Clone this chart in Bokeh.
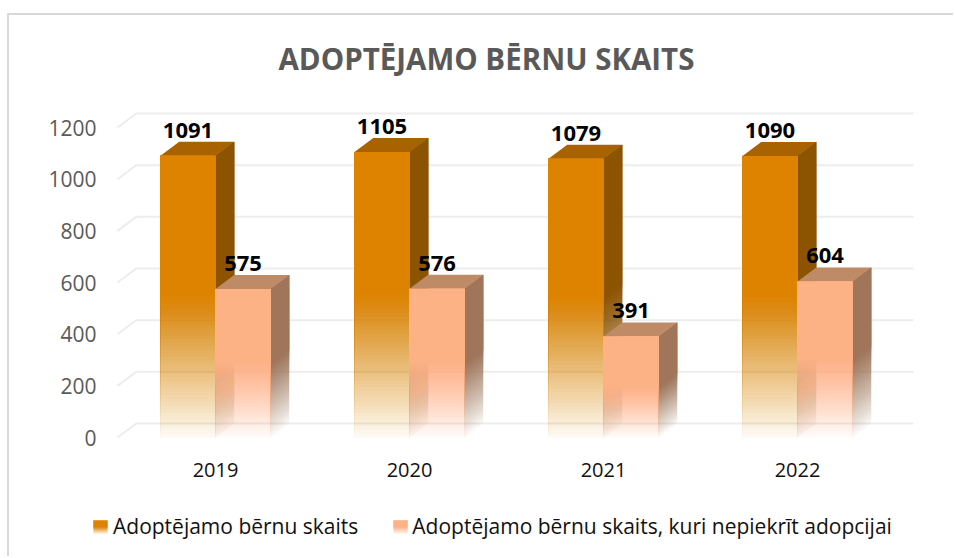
import numpy as np
from bokeh.core.properties import value
from bokeh.embed import file_html
from bokeh.models import FixedTicker, Legend, LegendItem
from bokeh.plotting import figure
from bokeh.resources import INLINE

years = ["2019", "2020", "2021", "2022"]
children = [1091, 1105, 1079, 1090]
refusing = [575, 576, 391, 604]
y_ticks = [0, 200, 400, 600, 800, 1000, 1200]
title_text = "ADOPTĒJAMO BĒRNU SKAITS"
name_a = "Adoptējamo bērnu skaits"
name_b = "Adoptējamo bērnu skaits, kuri nepiekrīt adopcijai"

BAR_W = 0.2835
DX = 0.0964
DY = 54.2
LAYERS = 40
FLOOR = 0.05
FONT = "Open Sans"
ORANGE = "#DE8300"
PEACH = "#FDB286"

# pixels of the page -> data
PX_X = 194.0
PX_Y = 0.2583
def dx_of(px):
    return (px - 215) / PX_X
def dy_of(py):
    return (437 - py) / PX_Y

GRID_X0, GRID_X1 = dx_of(117), dx_of(913)

p = figure(width=946, height=543, output_backend="svg", toolbar_location=None,
           x_range=(dx_of(9), dx_of(955)),
           y_range=(dy_of(558), dy_of(100)),
           min_border_left=0, min_border_right=0,
           min_border_top=85, min_border_bottom=0,
           background_fill_color="white", border_fill_color="white",
           outline_line_color=None, margin=(15, 0, 0, 9),
           styles={"box-shadow": "-2px -2px 0 0 #D9D9D9"})

p.title.text = title_text
p.title.text_font = FONT
p.title.text_font_size = "29.5px"
p.title.text_font_style = "bold"
p.title.text_color = "#595959"
p.title.align = "left"
p.title.offset = 269
p.title.vertical_align = "middle"
p.title.standoff = 42

p.grid.visible = False
p.yaxis.ticker = FixedTicker(ticks=y_ticks)
p.xaxis.ticker = FixedTicker(ticks=list(range(len(years))))
p.xaxis.major_label_overrides = {i: y for i, y in enumerate(years)}
for ax, color, size, standoff in ((p.yaxis, "#595959", "21px", -93), (p.xaxis, "#111111", "20px", -102)):
    ax.axis_line_color = None
    ax.major_tick_line_color = None
    ax.minor_tick_line_color = None
    ax.major_label_text_font = FONT
    ax.major_label_text_font_size = size
    ax.major_label_text_color = color
    ax.major_label_standoff = standoff

# back wall gridlines and their slanted side wall part
grid_xs, grid_ys = [], []
for t in y_ticks:
    grid_xs.append([GRID_X0, GRID_X0 + DX, GRID_X1])
    grid_ys.append([t, t + DY, t + DY])
p.multi_line(grid_xs, grid_ys, line_color="#EDEDED", line_width=2)

# cumulative alpha levels, bottom of the fade upward
levels = np.linspace(FLOOR, 1.0, LAYERS + 1)
alphas = [FLOOR] + [1 - (1 - levels[k]) / (1 - levels[k - 1]) for k in range(1, LAYERS)]


def draw_series(vals, start, front, top, side):
    lefts = [i + start for i in range(len(vals))]
    rights = [l + BAR_W for l in lefts]

    # side faces
    xs, ys, fa = [], [], []
    for k, a in enumerate(alphas):
        f = k / LAYERS * 0.5
        for r, v in zip(rights, vals):
            b = v * f
            xs.append([r, r, r + DX, r + DX])
            ys.append([b, v, v + DY, b + DY])
            fa.append(a)
    p.patches(xs, ys, fill_color=side, fill_alpha=fa, line_color=None)
    p.patches([[r, r, r + DX, r + DX] for r in rights],
              [[v * 0.5, v, v + DY, v * 0.5 + DY] for v in vals],
              fill_color=side, line_color=None)

    # top faces
    p.patches([[l, r, r + DX, l + DX] for l, r in zip(lefts, rights)],
              [[v, v, v + DY, v + DY] for v in vals],
              fill_color=top, line_color=None)

    # front faces
    ql, qr, qb, qt, fa = [], [], [], [], []
    for k, a in enumerate(alphas):
        f = k / LAYERS * 0.5
        for l, r, v in zip(lefts, rights, vals):
            ql.append(l); qr.append(r); qb.append(v * f); qt.append(v); fa.append(a)
    p.quad(left=ql, right=qr, bottom=qb, top=qt, fill_color=front, fill_alpha=fa, line_color=None)
    p.segment(x0=ql + qr, y0=qb + qb, x1=ql + qr, y1=qt + qt, line_color=front,
              line_alpha=fa + fa, line_width=1)
    p.quad(left=lefts, right=rights, bottom=[v * 0.5 for v in vals], top=vals,
           fill_color=front, line_color=None)


draw_series(children, -BAR_W, ORANGE, "#A86300", "#8C5300")
draw_series(refusing, 0.0, PEACH, "#BF8A66", "#A0755A")

label_font = dict(text_font=value(FONT), text_font_style="bold", text_font_size="22px",
                  text_color="#000000", text_align="center", text_baseline="middle")
LABEL_LIFT = 99
p.text([i - BAR_W / 2 for i in range(4)], [v + LABEL_LIFT for v in children],
       text=[str(v) for v in children], **label_font)
p.text([i + BAR_W / 2 for i in range(4)], [v + LABEL_LIFT for v in refusing],
       text=[str(v) for v in refusing], **label_font)

# legend keys: the swatches are drawn below as fading glyphs, the legend holds the labels
key_a = p.quad(left=[], right=[], bottom=[], top=[], fill_color=ORANGE, fill_alpha=0, line_alpha=0)
key_b = p.quad(left=[], right=[], bottom=[], top=[], fill_color=PEACH, fill_alpha=0, line_alpha=0)
legend = Legend(items=[LegendItem(label=name_a, renderers=[key_a]),
                       LegendItem(label=name_b, renderers=[key_b])],
                orientation="horizontal", location=(82, 18),
                background_fill_alpha=0, border_line_color=None,
                padding=0, margin=0, spacing=32, glyph_width=18, glyph_height=18,
                label_standoff=4, label_text_font=FONT, label_text_font_size="21px",
                label_text_color="#111111")
p.add_layout(legend, "center")

ROWS = 7
key_levels = np.linspace(0.05, 1.0, ROWS + 1)
key_alphas = [0.05] + [1 - (1 - key_levels[k]) / (1 - key_levels[k - 1]) for k in range(1, ROWS)]
for sx, color in ((93, ORANGE), (393, PEACH)):
    fl, fr, fb, ft = [], [], [], []
    for row in range(ROWS):
        fl.append(dx_of(sx)); fr.append(dx_of(sx + 14))
        fb.append(dy_of(534 - row)); ft.append(dy_of(520))
    p.quad(left=fl, right=fr, bottom=fb, top=ft, fill_color=color, fill_alpha=key_alphas,
           line_color=None)
    p.quad(left=[dx_of(sx)], right=[dx_of(sx + 14)], bottom=[dy_of(527)], top=[dy_of(520)],
           fill_color=color, line_color=None)

open("out.html", "w").write(file_html(p, INLINE))
